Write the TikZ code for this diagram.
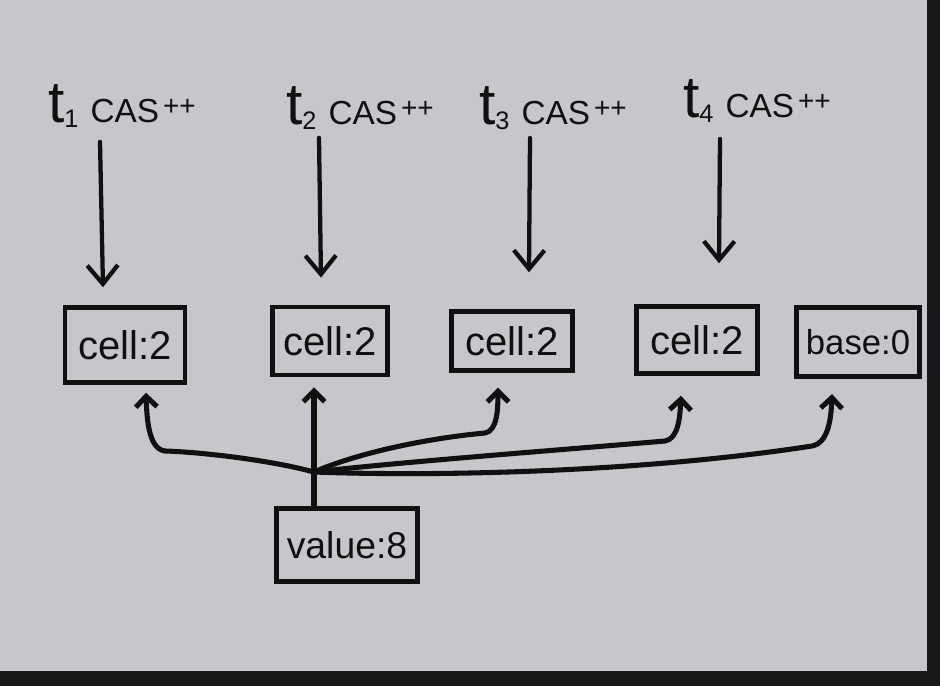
\documentclass[tikz,border=0pt]{standalone}
\usepackage{fontspec}
\setmainfont{Liberation Sans}
\usetikzlibrary{arrows.meta,calc}
\definecolor{board}{RGB}{199,199,203}
\definecolor{ink}{RGB}{16,16,16}
\definecolor{frame}{RGB}{24,24,27}
\newcommand{\tlab}[1]{{\fontsize{44}{44}\selectfont t}\raisebox{-0.3ex}{\fontsize{19}{19}\selectfont #1}\hspace{9pt}CAS\hspace{3pt}\raisebox{0.4ex}{\fontsize{21}{21}\selectfont ++}}
\begin{document}
\begin{tikzpicture}[x=0.75pt,y=-0.75pt,
  cellbox/.style={draw=ink,line width=3.6pt,inner sep=0pt,text=ink,font=\fontsize{30}{32}\selectfont},
  lbl/.style={inner sep=0pt,text=ink,font=\fontsize{25}{28}\selectfont},
  downarr/.style={draw=ink,line width=3.2pt,line cap=round,-{Straight Barb[length=14pt,width=23pt]}},
  uparr/.style={draw=ink,line width=3.8pt,line cap=round,line join=round,-{Straight Barb[length=8pt,width=16pt]}}]
\fill[frame] (0,0) rectangle (940,686);
\fill[board] (0,0) rectangle (927,671);
\useasboundingbox (0,0) rectangle (940,686);

% labels
\node[lbl] (l1) at (122,106) {\tlab{1}};
\node[lbl] (l2) at (360,108) {\tlab{2}};
\node[lbl] (l3) at (553,108) {\tlab{3}};
\node[lbl] (l4) at (757,101) {\tlab{4}};

% boxes
\node[cellbox,minimum width=90pt,minimum height=56pt] (c1) at (125,345) {cell:2};
\node[cellbox,minimum width=86pt,minimum height=51pt] (c2) at (330,341) {cell:2};
\node[cellbox,minimum width=91pt,minimum height=44pt] (c3) at (512,341) {cell:2};
\node[cellbox,minimum width=91pt,minimum height=50pt] (c4) at (697,340) {cell:2};
\node[cellbox,minimum width=92pt,minimum height=52pt,font=\fontsize{26}{30}\selectfont] (c5) at (858,342) {base:0};
\node[cellbox,minimum width=106pt,minimum height=55pt,font=\fontsize{28}{32}\selectfont] (v) at (347,545) {value:8};

% down arrows
\draw[downarr] ($(l1.south -| 100,0)+(0,14)$) -- ($(c1.north -| 103,0)+(0,-18)$);
\draw[downarr] ($(l2.south -| 319,0)+(0,8)$) -- ($(c2.north -| 321,0)+(0,-27)$);
\draw[downarr] ($(l3.south -| 530,0)+(0,8)$) -- ($(c3.north -| 529,0)+(0,-37)$);
\draw[downarr] ($(l4.south -| 720,0)+(0,16)$) -- ($(c4.north -| 719,0)+(0,-41)$);

% junction and upward connectors
\coordinate (j) at (314,472);
\draw[line width=3.8pt,ink,line cap=round] (v.north -| j) -- (j);
\draw[uparr] (j) -- ($(c2.south -| j)+(0,10)$);
\draw[uparr] (j) .. controls (270,460) and (200,452) .. (165,451)
  .. controls (150,449) and (147,425) .. ($(c1.south -| 146,0)+(0,8)$);
\draw[uparr] (j) .. controls (360,452) and (430,438) .. (485,433)
  .. controls (497,431) and (498,410) .. ($(c3.south -| 498,0)+(0,15)$);
\draw[uparr] (j) .. controls (400,462) and (560,450) .. (665,441)
  .. controls (678,439) and (680,418) .. ($(c4.south -| 681,0)+(0,20)$);
\draw[uparr] (j) .. controls (450,477) and (650,471) .. (812,446)
  .. controls (828,443) and (831,420) .. ($(c5.south -| 832,0)+(0,15)$);
\end{tikzpicture}
\end{document}
